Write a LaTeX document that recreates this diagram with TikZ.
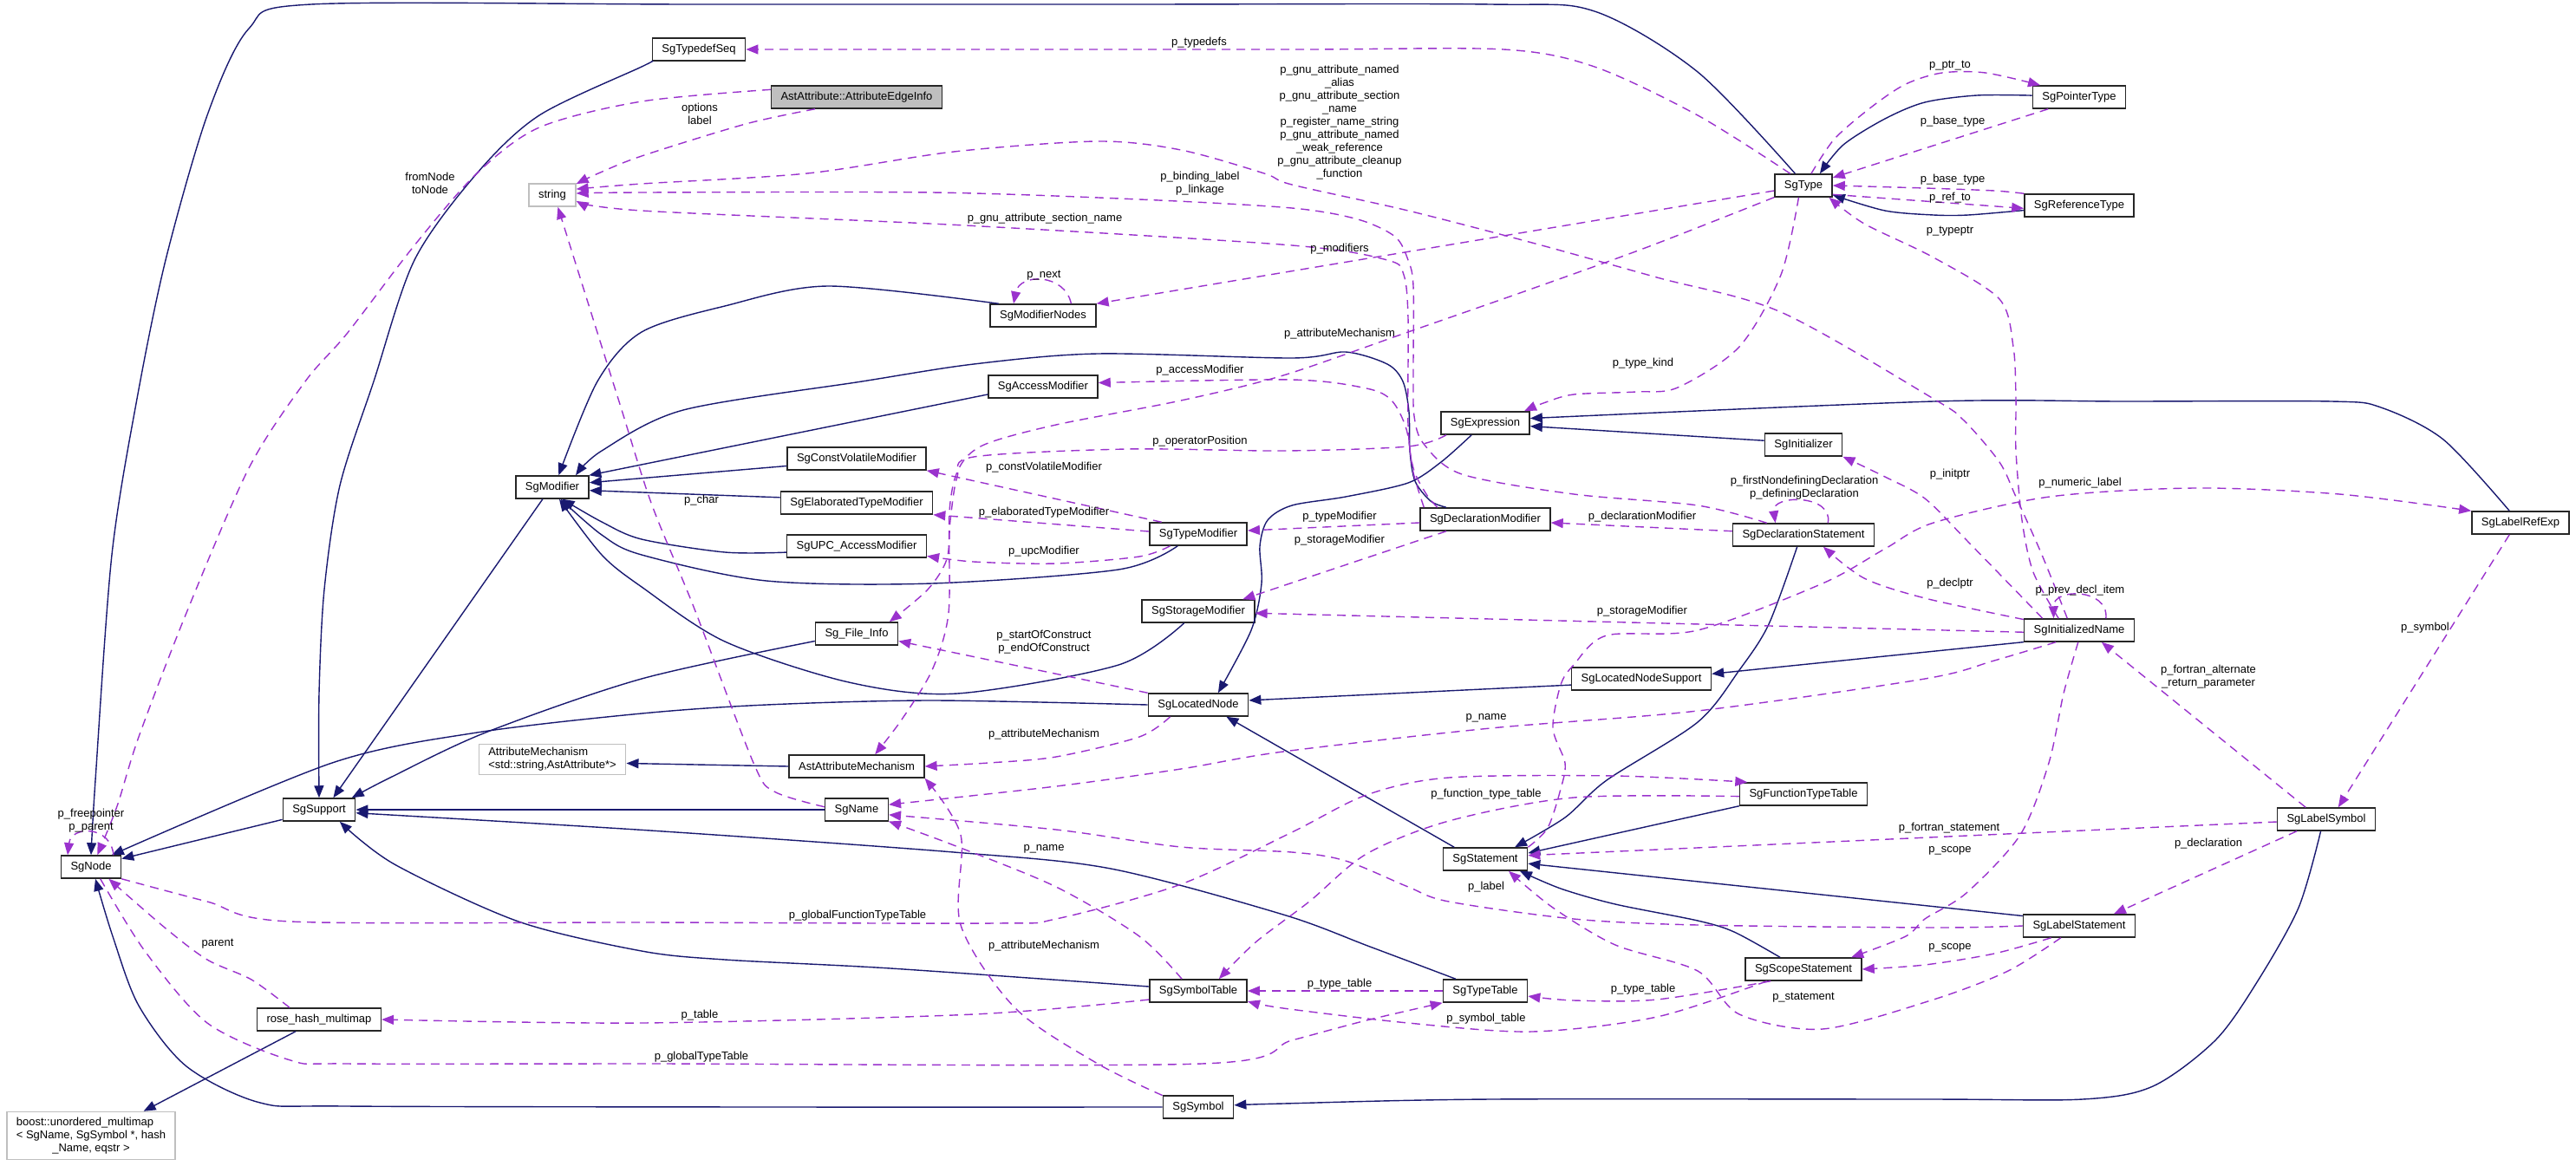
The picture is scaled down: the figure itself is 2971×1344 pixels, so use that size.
\documentclass[tikz,border=0pt]{standalone}
\usepackage{fontspec}
\setmainfont{Liberation Sans}
\usetikzlibrary{arrows.meta}
\definecolor{dgblue}{HTML}{191970}
\definecolor{dgpurple}{HTML}{9A32CD}
\definecolor{dggray}{HTML}{BFBFBF}
\newcommand{\dgfont}{\fontsize{13pt}{15pt}\selectfont}
\tikzset{
  cls/.style={draw=black!85, line width=1.5pt, fill=white, font=\dgfont, minimum height=26pt, inner xsep=11pt, inner ysep=2pt},
  ext/.style={cls, draw=dggray},
  cur/.style={cls, fill=dggray},
  inh/.style={draw=dgblue, line width=1.4pt, -{Triangle[length=14pt,width=11pt]}},
  mem/.style={draw=dgpurple, line width=1.4pt, dash pattern=on 10pt off 7pt, -{Triangle[length=14pt,width=11pt]}},
  lbl/.style={font=\dgfont, align=center, inner sep=0pt},
}
\begin{document}
\begin{tikzpicture}[x=1pt,y=-1pt]
  \useasboundingbox (0,0) rectangle (2971,1344);
  % classes
  \node[cls] (SgNode) at (105,1000) {SgNode};
  \node[cls] (SgSupport) at (368,934) {SgSupport};
  \node[cls] (rosemap) at (368,1176) {rose\_hash\_multimap};
  \node[ext, inner ysep=5pt] (boostmap) at (105,1310) {\begin{tabular}{@{}l@{}}boost::unordered\_multimap\\< SgName, SgSymbol *, hash\\\multicolumn{1}{@{}c@{}}{\_Name, eqstr >}\end{tabular}};
  \node[ext] (string) at (637,225) {string};
  \node[cls] (SgModifier) at (637,562) {SgModifier};
  \node[ext, align=left, inner ysep=4pt] (attrmech) at (637,876) {AttributeMechanism\\<std::string,AstAttribute*>};
  \node[cls] (SgTypedefSeq) at (806,57) {SgTypedefSeq};
  \node[cur] (edgeinfo) at (988,112) {AstAttribute::AttributeEdgeInfo};
  \node[cls] (SgConstVolatileModifier) at (988,529) {SgConstVolatileModifier};
  \node[cls] (SgElaboratedTypeModifier) at (988,580) {SgElaboratedTypeModifier};
  \node[cls] (SgUPCAccessModifier) at (988,630) {SgUPC\_AccessModifier};
  \node[cls] (SgFileInfo) at (988,731) {Sg\_File\_Info};
  \node[cls] (AstAttributeMechanism) at (988,884) {AstAttributeMechanism};
  \node[cls] (SgName) at (988,934) {SgName};
  \node[cls] (SgModifierNodes) at (1203,364) {SgModifierNodes};
  \node[cls] (SgAccessModifier) at (1203,446) {SgAccessModifier};
  \node[cls] (SgTypeModifier) at (1382,616) {SgTypeModifier};
  \node[cls] (SgStorageModifier) at (1382,705) {SgStorageModifier};
  \node[cls] (SgLocatedNode) at (1382,813) {SgLocatedNode};
  \node[cls] (SgSymbolTable) at (1382,1143) {SgSymbolTable};
  \node[cls] (SgSymbol) at (1382,1277) {SgSymbol};
  \node[cls] (SgExpression) at (1713,488) {SgExpression};
  \node[cls] (SgDeclarationModifier) at (1713,599) {SgDeclarationModifier};
  \node[cls] (SgStatement) at (1713,991) {SgStatement};
  \node[cls] (SgTypeTable) at (1713,1143) {SgTypeTable};
  \node[cls] (SgLocatedNodeSupport) at (1893,783) {SgLocatedNodeSupport};
  \node[cls] (SgType) at (2080,214) {SgType};
  \node[cls] (SgInitializer) at (2080,513) {SgInitializer};
  \node[cls] (SgDeclarationStatement) at (2080,617) {SgDeclarationStatement};
  \node[cls] (SgFunctionTypeTable) at (2080,916) {SgFunctionTypeTable};
  \node[cls] (SgScopeStatement) at (2080,1118) {SgScopeStatement};
  \node[cls] (SgPointerType) at (2398,112) {SgPointerType};
  \node[cls] (SgReferenceType) at (2398,237) {SgReferenceType};
  \node[cls] (SgInitializedName) at (2398,727) {SgInitializedName};
  \node[cls] (SgLabelStatement) at (2398,1068) {SgLabelStatement};
  \node[cls] (SgLabelSymbol) at (2683,945) {SgLabelSymbol};
  \node[cls] (SgLabelRefExp) at (2907,603) {SgLabelRefExp};

  % inheritance
  \draw[inh] (SgSupport.195) -- (SgNode.15);
  \draw[inh] plot[smooth] coordinates {(SgLocatedNode.west) (1075,808) (884,813) (740,823) (550,845) (383,880) (SgNode.30)};
  \draw[inh] (SgModifier.231) -- (SgSupport.40);
  \draw[inh] plot[smooth] coordinates {(SgFileInfo.190) (740,783) (560,845) (450,897) (SgSupport.20)};
  \draw[inh] plot[smooth] coordinates {(SgTypedefSeq.south west) (740,77) (622,133) (550,200) (478,300) (431,440) (392,560) (374,680) (368,800) (SgSupport.north)};
  \draw[inh] plot[smooth] coordinates {(SgType.125) (1958,83) (1839,13) (1719,5) (1300,5) (800,5) (359,5) (287,33) (239,133) (191,300) (158,460) (129,640) (110,900) (SgNode.north)};
  \draw[inh] plot[smooth] coordinates {(SgModifierNodes.165) (955,330) (836,353) (740,383) (689,440) (SgModifier.62)};
  \draw[inh] plot[smooth] coordinates {(SgDeclarationModifier.163) (1650,578) (1632,555) (1626,520) (1625,475) (1618,440) (1600,420) (1552,406) (1490,413) (1266,408) (1123,420) (994,440) (788,473) (694,520) (SgModifier.27)};
  \draw[inh] (SgAccessModifier.188) -- (SgModifier.18);
  \draw[inh] (SgConstVolatileModifier.186) -- (SgModifier.7);
  \draw[inh] (SgElaboratedTypeModifier.176) -- (SgModifier.-5);
  \draw[inh] plot[smooth] coordinates {(SgUPCAccessModifier.185) (836,637) (740,622) (694,602) (SgModifier.-50)};
  \draw[inh] plot[smooth] coordinates {(SgTypeModifier.210) (1290,657) (1075,673) (884,670) (740,640) (694,617) (SgModifier.-55)};
  \draw[inh] plot[smooth] coordinates {(SgStorageModifier.220) (1290,767) (1104,800) (979,787) (836,740) (740,677) (694,640) (SgModifier.-60)};
  \draw[inh] (SgLocatedNodeSupport.185) -- (SgLocatedNode.5);
  \draw[inh] plot[smooth] coordinates {(SgExpression.221) (1662,533) (1624,557) (1552,573) (1490,583) (1462,600) (1453,630) (1455,673) (1443,727) (SgLocatedNode.31)};
  \draw[inh] (SgStatement.159) -- (SgLocatedNode.-23);
  \draw[inh] plot[smooth] coordinates {(SgDeclarationStatement.242) (2040,720) (2006,773) (1958,833) (1853,900) (1805,943) (SgStatement.22)};
  \draw[inh] (SgFunctionTypeTable.south west) -- (SgStatement.8);
  \draw[inh] (SgLabelStatement.170) -- (SgStatement.-6);
  \draw[inh] plot[smooth] coordinates {(SgScopeStatement.153) (2000,1075) (1958,1062) (1863,1043) (1800,1025) (SgStatement.-19)};
  \draw[inh] plot[smooth] coordinates {(SgLabelRefExp.133) (2818,507) (2746,470) (2689,463) (2450,463) (2230,463) (SgExpression.6)};
  \draw[inh] (SgInitializer.174) -- (SgExpression.-4);
  \draw[inh] plot[smooth] coordinates {(SgPointerType.178) (2280,110) (2220,118) (2174,137) (2126,167) (SgType.36)};
  \draw[inh] plot[smooth] coordinates {(SgReferenceType.185) (2270,248) (2230,248) (2174,243) (SgType.-18)};
  \draw[inh] (SgInitializedName.192) -- (SgLocatedNodeSupport.4);
  \draw[inh] plot[smooth] coordinates {(SgLabelSymbol.245) (2651,1047) (2603,1133) (2555,1200) (2483,1253) (2402,1268) (2220,1268) (1719,1268) (1480,1273) (SgSymbol.3)};
  \draw[inh] plot[smooth] coordinates {(SgSymbol.west) (900,1277) (400,1276) (300,1272) (215,1230) (160,1160) (130,1080) (SgNode.-70)};
  \draw[inh] plot[smooth] coordinates {(SgSymbolTable.175) (1027,1117) (836,1107) (740,1097) (598,1063) (455,997) (SgSupport.-30)};
  \draw[inh] plot[smooth] coordinates {(SgTypeTable.158) (1580,1092) (1480,1055) (1281,1002) (1100,983) (750,958) (SgSupport.-5)};
  \draw[inh] (SgName.west) -- (SgSupport.east);
  \draw[inh] (rosemap.207) -- (boostmap.25);
  \draw[inh] (AstAttributeMechanism.west) -- (attrmech.-3);

  % members
  \draw[mem] plot[smooth] coordinates {(edgeinfo.175) (740,117) (622,147) (550,200) (478,283) (400,385) (352,440) (287,540) (215,707) (160,850) (135,930) (SgNode.62)};
  \draw[mem] (SgNode.28) .. controls (128,952) and (82,952) .. (SgNode.153);
  \draw[mem] plot[smooth] coordinates {(edgeinfo.196) (860,143) (740,180) (690,200) (string.25)};
  \draw[mem] plot[smooth] coordinates {(SgType.138) (1958,133) (1839,77) (1734,57) (1500,57) (1100,57) (SgTypedefSeq.east)};
  \draw[mem] plot[smooth] coordinates {(SgName.175) (893,913) (869,880) (800,700) (751,580) (713,460) (string.-65)};
  \draw[mem] (SgModifierNodes.23) .. controls (1228,315) and (1176,315) .. (SgModifierNodes.158);
  \draw[mem] (SgType.190) -- (SgModifierNodes.north east);
  \draw[mem] plot[smooth] coordinates {(SgType.202) (1900,285) (1767,333) (1624,383) (1480,433) (1362,462) (1218,490) (1135,513) (1106,540) (1095,590) (1094,707) (1075,773) (1040,830) (AstAttributeMechanism.33)};
  \draw[mem] plot[smooth] coordinates {(SgExpression.197) (1624,515) (1480,520) (1300,518) (1123,527) (1104,550) (1096,600) (1092,645) (1070,680) (SgFileInfo.20)};
  \draw[mem] plot[smooth] coordinates {(SgDeclarationModifier.169) (1630,545) (1622,495) (1605,462) (1576,448) (1490,438) (SgAccessModifier.4)};
  \draw[mem] (SgTypeModifier.162) -- (SgConstVolatileModifier.south east);
  \draw[mem] (SgTypeModifier.177) -- (SgElaboratedTypeModifier.south east);
  \draw[mem] plot[smooth] coordinates {(SgTypeModifier.203) (1314,642) (1218,650) (1123,648) (SgUPCAccessModifier.-8)};
  \draw[mem] (SgDeclarationModifier.183) -- (SgTypeModifier.4);
  \draw[mem] (SgDeclarationModifier.197) -- (SgStorageModifier.15);
  \draw[mem] (SgInitializedName.182) -- (SgStorageModifier.-2);
  \draw[mem] (SgLocatedNode.north west) -- (SgFileInfo.-10);
  \draw[mem] plot[smooth] coordinates {(SgLocatedNode.203) (1314,850) (1218,873) (1140,880) (AstAttributeMechanism.east)};
  \draw[mem] plot[smooth] coordinates {(SgSymbol.162) (1266,1227) (1171,1163) (1108,1067) (1108,963) (AstAttributeMechanism.south east)};
  \draw[mem] plot[smooth] coordinates {(SgInitializedName.207) (2300,762) (2220,783) (1958,820) (1719,840) (1480,867) (1362,887) (1218,907) (SgName.9)};
  \draw[mem] plot[smooth] coordinates {(SgLabelStatement.west) (2230,1070) (1958,1067) (1815,1060) (1671,1040) (1624,1023) (1552,993) (1490,983) (1362,977) (1218,957) (SgName.-9)};
  \draw[mem] plot[smooth] coordinates {(SgSymbolTable.144) (1314,1080) (1218,1023) (1100,975) (SgName.-20)};
  \draw[mem] plot[smooth] coordinates {(SgNode.south east) (239,1040) (335,1063) (750,1064) (1147,1065) (1218,1060) (1362,1020) (1490,960) (1576,917) (1671,897) (1863,895) (SgFunctionTypeTable.168)};
  \draw[mem] plot[smooth] coordinates {(SgFunctionTypeTable.182) (1815,920) (1671,947) (1576,985) (1510,1040) (1448,1087) (SgSymbolTable.30)};
  \draw[mem] plot[smooth] coordinates {(SgSymbolTable.190) (1123,1170) (740,1180) (rosemap.east)};
  \draw[mem] plot[smooth] coordinates {(rosemap.158) (290,1130) (239,1107) (190,1070) (SgNode.-34)};
  \draw[mem] plot[smooth] coordinates {(SgNode.-52) (167,1097) (239,1180) (335,1223) (400,1227) (750,1227) (1386,1227) (1490,1200) (1576,1177) (SgTypeTable.south west)};
  \draw[mem] (SgTypeTable.west) -- (SgSymbolTable.east);
  \draw[mem] plot[smooth] coordinates {(SgScopeStatement.198) (1911,1173) (1767,1190) (1624,1180) (1480,1163) (SgSymbolTable.-12)};
  \draw[mem] plot[smooth] coordinates {(SgScopeStatement.200) (1911,1153) (1815,1154) (SgTypeTable.-7)};
  \draw[mem] plot[smooth] coordinates {(SgLabelStatement.213) (2316,1120) (2230,1153) (2102,1187) (2006,1170) (1958,1120) (1863,1090) (1791,1047) (SgStatement.-27)};
  \draw[mem] plot[smooth] coordinates {(SgLabelStatement.203) (2300,1100) (2220,1113) (SgScopeStatement.east)};
  \draw[mem] plot[smooth] coordinates {(SgInitializedName.265) (2380,800) (2363,880) (2330,963) (2268,1030) (2220,1060) (2198,1080) (SgScopeStatement.14)};
  \draw[mem] (SgLabelSymbol.183) -- (SgStatement.5);
  \draw[mem] (SgLabelSymbol.202) -- (SgLabelStatement.19);
  \draw[mem] (SgLabelRefExp.227) -- (SgLabelSymbol.45);
  \draw[mem] (SgLabelSymbol.150) -- (SgInitializedName.-28);
  \draw[mem] plot[smooth] coordinates {(SgStatement.north east) (1785,955) (1800,910) (1805,880) (1791,840) (1800,790) (1815,767) (1853,733) (1958,727) (2102,673) (2174,633) (2230,603) (2364,573) (2531,563) (2698,570) (SgLabelRefExp.north west)};
  \draw[mem] plot[smooth] coordinates {(SgInitializedName.169) (2220,690) (2150,667) (SgDeclarationStatement.-31)};
  \draw[mem] plot[smooth] coordinates {(SgInitializedName.162) (2268,623) (2220,575) (2174,550) (SgInitializer.south east)};
  \draw[mem] (SgInitializedName.24) .. controls (2432,678) and (2368,678) .. (SgInitializedName.155);
  \draw[mem] plot[smooth] coordinates {(SgType.248) (2054,317) (2006,400) (1935,447) (1887,452) (1815,455) (1780,465) (SgExpression.17)};
  \draw[mem] plot[smooth] coordinates {(SgType.57) (2116,160) (2159,123) (2198,97) (2240,84) (2290,84) (SgPointerType.163)};
  \draw[mem] (SgPointerType.201) -- (SgType.15);
  \draw[mem] plot[smooth] coordinates {(SgReferenceType.north west) (2300,220) (2220,217) (SgType.east)};
  \draw[mem] (SgType.-17) -- (SgReferenceType.183);
  \draw[mem] plot[smooth] coordinates {(SgInitializedName.150) (2345,660) (2332,600) (2325,520) (2325,460) (2322,400) (2306,345) (2230,297) (2150,258) (SgType.-25)};
  \draw[mem] plot[smooth] coordinates {(SgInitializedName.135) (2355,640) (2325,573) (2306,533) (2265,485) (2230,460) (2054,360) (1911,320) (1767,280) (1624,243) (1490,213) (1458,200) (1362,173) (1266,163) (1100,175) (931,200) (740,212) (string.14)};
  \draw[mem] plot[smooth] coordinates {(SgDeclarationStatement.162) (1958,583) (1815,570) (1686,547) (1642,512) (1631,480) (1630,430) (1630,330) (1624,300) (1609,273) (1566,253) (1490,240) (1314,230) (1075,222) (740,222) (string.4)};
  \draw[mem] plot[smooth] coordinates {(SgDeclarationModifier.166) (1645,570) (1630,540) (1624,490) (1624,367) (1619,317) (1600,300) (1490,283) (1113,260) (740,243) (string.-14)};
  \draw[mem] (SgDeclarationStatement.177) -- (SgDeclarationModifier.-3);
  \draw[mem] (SgDeclarationStatement.26) .. controls (2115,570) and (2043,570) .. (SgDeclarationStatement.157);

  % labels
  \node[lbl] (lfromnode) at (496,211) {fromNode\\toNode};
  \node[lbl] (lparent) at (105,947) {p\_freepointer\\p\_parent};
  \node[lbl] (loptions) at (807,131) {options\\label};
  \node[lbl] (ltypedefs) at (1383,49) {p\_typedefs};
  \node[lbl] (lgnunamed) at (1545,141) {p\_gnu\_attribute\_named\\\_alias\\p\_gnu\_attribute\_section\\\_name\\p\_register\_name\_string\\p\_gnu\_attribute\_named\\\_weak\_reference\\p\_gnu\_attribute\_cleanup\\\_function};
  \node[lbl] (lbinding) at (1384,212) {p\_binding\_label\\p\_linkage};
  \node[lbl] (lsection) at (1205,252) {p\_gnu\_attribute\_section\_name};
  \node[lbl] (lnext) at (1204,318) {p\_next};
  \node[lbl] (lmodifiers) at (1545,287) {p\_modifiers};
  \node[lbl] (lattrtype) at (1545,385) {p\_attributeMechanism};
  \node[lbl] (ltypekind) at (1895,419) {p\_type\_kind};
  \node[lbl] (laccess) at (1384,427) {p\_accessModifier};
  \node[lbl] (loperator) at (1384,509) {p\_operatorPosition};
  \node[lbl] (lconstvol) at (1204,539) {p\_constVolatileModifier};
  \node[lbl] (lchar) at (809,577) {p\_char};
  \node[lbl] (lelab) at (1204,591) {p\_elaboratedTypeModifier};
  \node[lbl] (ltypemod) at (1545,596) {p\_typeModifier};
  \node[lbl] (ldeclmod) at (1894,596) {p\_declarationModifier};
  \node[lbl] (lstorage) at (1545,623) {p\_storageModifier};
  \node[lbl] (lupc) at (1204,636) {p\_upcModifier};
  \node[lbl] (ldefining) at (2081,563) {p\_firstNondefiningDeclaration\\p\_definingDeclaration};
  \node[lbl] (lstorageb) at (1894,705) {p\_storageModifier};
  \node[lbl] (lconstruct) at (1204,741) {p\_startOfConstruct\\p\_endOfConstruct};
  \node[lbl] (lattrlocated) at (1204,847) {p\_attributeMechanism};
  \node[lbl] (lname) at (1714,828) {p\_name};
  \node[lbl] (lnameb) at (1204,979) {p\_name};
  \node[lbl] (llabel) at (1714,1023) {p\_label};
  \node[lbl] (lglobalfunc) at (989,1056) {p\_globalFunctionTypeTable};
  \node[lbl] (lattrsymbol) at (1204,1091) {p\_attributeMechanism};
  \node[lbl] (ltable) at (807,1171) {p\_table};
  \node[lbl] (lparentmap) at (251,1089) {parent};
  \node[lbl] (lglobaltype) at (809,1219) {p\_globalTypeTable};
  \node[lbl] (ltypetable) at (1545,1135) {p\_type\_table};
  \node[lbl] (ltypetableb) at (1895,1141) {p\_type\_table};
  \node[lbl] (lsymtable) at (1714,1175) {p\_symbol\_table};
  \node[lbl] (lfunctable) at (1714,916) {p\_function\_type\_table};
  \node[lbl] (lstatement) at (2080,1151) {p\_statement};
  \node[lbl] (lscope) at (2249,1093) {p\_scope};
  \node[lbl] (lscopeb) at (2249,981) {p\_scope};
  \node[lbl] (lfortranstmt) at (2248,955) {p\_fortran\_statement};
  \node[lbl] (ldeclaration) at (2547,973) {p\_declaration};
  \node[lbl] (lsymbol) at (2797,724) {p\_symbol};
  \node[lbl] (lalternate) at (2547,781) {p\_fortran\_alternate\\\_return\_parameter};
  \node[lbl] (lnumeric) at (2399,557) {p\_numeric\_label};
  \node[lbl] (ldeclptr) at (2249,673) {p\_declptr};
  \node[lbl] (linitptr) at (2249,547) {p\_initptr};
  \node[lbl] (lprevdecl) at (2399,681) {p\_prev\_decl\_item};
  \node[lbl] (ltypeptr) at (2249,267) {p\_typeptr};
  \node[lbl] (lptrto) at (2249,76) {p\_ptr\_to};
  \node[lbl] (lbasetype) at (2252,140) {p\_base\_type};
  \node[lbl] (lbasetypeb) at (2252,207) {p\_base\_type};
  \node[lbl] (lrefto) at (2249,228) {p\_ref\_to};
\end{tikzpicture}
\end{document}
